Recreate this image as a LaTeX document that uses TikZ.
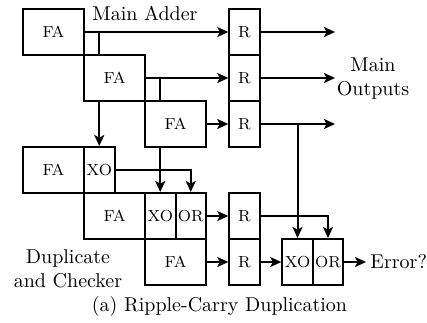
\documentclass[tikz,border=0pt]{standalone}
\usetikzlibrary{arrows.meta,calc}
\begin{document}
\begin{tikzpicture}[x=0.5pt,y=-0.5pt,
  wire/.style={line width=1pt},
  arr/.style={wire,-{Stealth[length=5.5pt,width=5pt,inset=1.3pt]}},
  blk/.style={draw,line width=1pt,minimum height=23pt,inner sep=0pt,font=\footnotesize},
  fa/.style={blk,minimum width=30.5pt},
  sm/.style={blk,minimum width=15.25pt},
  lbl/.style={inner sep=0pt,font=\normalsize}]
\useasboundingbox (0,0) rectangle (427,322);

% main adder: three full adders
\node[fa] (fa1) at (53.5,32) {FA};
\node[fa] (fa2) at (114.5,78) {FA};
\node[fa] (fa3) at (175.5,124) {FA};

% registers
\node[sm] (r1) at (244.5,32) {R};
\node[sm] (r2) at (244.5,78) {R};
\node[sm] (r3) at (244.5,124) {R};
\node[sm] (r4) at (244.5,216) {R};
\node[sm] (r5) at (244.5,262) {R};

% duplicate adder and checker
\node[fa] (fa4) at (53.5,170) {FA};
\node[sm] (xo1) at (99.25,170) {XO};
\node[fa] (fa5) at (114.5,216) {FA};
\node[sm] (xo3) at (160.25,216) {XO};
\node[sm] (or3) at (190.75,216) {OR};
\node[fa] (fa6) at (175.5,262) {FA};
\node[sm] (xo2) at (297.5,262) {XO};
\node[sm] (or2) at (328,262) {OR};

% labels
\node[lbl,anchor=base] (tmain) at (145,20) {Main Adder};
\node[lbl,align=center] (tout) at (373,79) {Main\\Outputs};
\node[lbl,align=center] (tdup) at (68,269) {Duplicate\\and Checker};
\node[inner sep=2pt,anchor=west] (err) at (366,262) {Error?};
\node[lbl,anchor=base] (cap) at (219.5,311) {(a) Ripple-Carry Duplication};

% output ends
\coordinate (o1) at (335,32);
\coordinate (o2) at (335,78);
\coordinate (o3) at (335,124);

% main path
\draw[arr] (fa1.east) -- (r1.west);
\draw[arr] (fa2.east) -- (r2.west);
\draw[arr] (fa3.east) -- (r3.west);
\draw[arr] (r1.east) -- (o1);
\draw[arr] (r2.east) -- (o2);
\draw[arr] (r3.east) -- (o3);

% carries
\draw[wire] (xo1.north |- fa1.east) -- (xo1.north |- fa2.north);
\draw[wire] (xo3.north |- fa2.east) -- (xo3.north |- fa3.north);

% taps into the checker
\draw[arr] (xo1.north |- fa2.south) -- (xo1.north);
\draw[arr] (xo3.north |- fa3.south) -- (xo3.north);
\draw[arr] (xo1.east) -| (or3.north);
\draw[arr] (or3.east) -- (r4.west);
\draw[arr] (fa6.east) -- (r5.west);
\draw[arr] (xo2.north |- r3.east) -- (xo2.north);
\draw[arr] (r4.east) -| (or2.north);
\draw[arr] (r5.east) -- (xo2.west);
\draw[arr] (or2.east) -- (err.west);
\end{tikzpicture}
\end{document}
